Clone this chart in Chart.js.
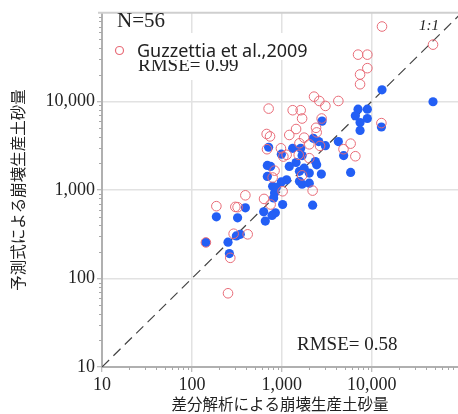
<!DOCTYPE html>
<html>
<head>
<meta charset="utf-8">
<style>
  html, body { margin: 0; padding: 0; background: #fff; }
</style>
<script src="https://cdn.jsdelivr.net/npm/chart.js@4/dist/chart.umd.min.js"></script>
</head>
<body>
<canvas id="chart" width="458" height="414"></canvas>
<script>
// decade ticks shared by both log axes
var decadeTicks = [10, 100, 1000, 10000];

// this study (filled blue): measured vs predicted
var blueX = [48000, 13000, 12800, 7040, 8930, 6570, 8930, 7410, 7410, 2800, 4250, 4870, 5820, 3050, 2240, 2570, 713, 1320, 1620, 1680, 987, 1440, 1210, 2360, 2440, 690, 750, 1570, 1770, 2020, 2750, 690, 1130, 987, 1570, 1680, 2020, 790, 830, 1020, 2200, 393, 187, 143, 252, 261, 322, 345, 312, 655, 628, 847, 778, 869, 811];
var blueY = [9900, 13500, 5130, 8150, 8150, 6860, 6400, 5770, 4700, 5980, 3510, 2440, 1575, 3160, 3820, 3510, 3030, 2950, 2950, 2440, 2530, 2040, 1840, 2090, 1920, 1890, 1840, 1620, 1760, 1550, 1510, 1420, 1300, 1230, 1250, 1160, 1190, 1100, 923, 684, 672, 627, 497, 255, 257, 191, 484, 315, 302, 445, 565, 551, 515, 1070, 811];

// Guzzettia et al., 2009 (open red)
var redX = [13000, 48000, 7040, 8930, 8930, 7410, 7410, 2280, 2610, 3050, 4250, 713, 1320, 1620, 1680, 2770, 1440, 2400, 2440, 678, 739, 1210, 1770, 1570, 2020, 2660, 5820, 4850, 6570, 977, 684, 1130, 1040, 1540, 2020, 12800, 830, 1680, 790, 1020, 2200, 393, 634, 304, 187, 143, 267, 252, 291, 417, 322, 750];
var redY = [70000, 43700, 33700, 33700, 23700, 20100, 15600, 11300, 10100, 8880, 10100, 8280, 7940, 7940, 6400, 6400, 4870, 5030, 4460, 4280, 4020, 4170, 3890, 3360, 3270, 3140, 3330, 2880, 2400, 2950, 2880, 2490, 2380, 2490, 2280, 5680, 1650, 1460, 1380, 965, 982, 869, 791, 643, 655, 255, 171, 68, 320, 315, 638, 684];

// 1:1 line ends
var lineXY = [10, 100000];

var BLUE = 'rgb(35,95,245)';
var RED = 'rgb(232,108,120)';
var SERIF = '"Liberation Serif", "Times New Roman", serif';
var CJK = '"Noto Sans CJK JP", sans-serif';

function toPoints(xs, ys) {
    return xs.map(function(x, i) { return { x: x, y: ys[i] }; });
}

function fmt(v) {
    return Number(v).toLocaleString('en-US');
}

// minor ticks, frame top line and the text labels
var extras = {
    id: 'extras',
    afterDraw: function(chart) {
        var ctx = chart.ctx;
        var area = chart.chartArea;
        var xs = chart.scales.x, ys = chart.scales.y;

        ctx.save();
        ctx.strokeStyle = '#a8a8a8';
        ctx.lineWidth = 1;
        ctx.beginPath();
        for (var d = 10; d < 100000; d *= 10) {
            for (var m = 2; m <= 9; m++) {
                var v = d * m;
                if (v <= xs.max) {
                    var px = Math.round(xs.getPixelForValue(v)) + 0.5;
                    ctx.moveTo(px, area.bottom);
                    ctx.lineTo(px, area.bottom + 3);
                }
                if (v <= ys.max) {
                    var py = Math.round(ys.getPixelForValue(v)) + 0.5;
                    ctx.moveTo(area.left, py);
                    ctx.lineTo(area.left - 3, py);
                }
            }
        }
        ctx.stroke();

        // top frame
        ctx.strokeStyle = '#cfcfcf';
        ctx.lineWidth = 2;
        ctx.beginPath();
        ctx.moveTo(area.left - 4, area.top);
        ctx.lineTo(area.right, area.top);
        ctx.stroke();

        ctx.fillStyle = '#222';
        ctx.textBaseline = 'alphabetic';
        ctx.textAlign = 'left';

        ctx.font = '21px ' + SERIF;
        ctx.fillText('N=56', 117, 27);

        ctx.font = 'italic 15px ' + SERIF;
        ctx.fillText('1:1', 419, 30);

        ctx.font = '19px ' + SERIF;
        ctx.fillText('RMSE= 0.58', 297, 350);

        // first RMSE label, boxed, then overlapped by legend box
        ctx.fillStyle = '#fff';
        ctx.fillRect(134, 58, 108, 22);
        ctx.fillStyle = '#222';
        ctx.fillText('RMSE= 0.99', 138, 71);

        ctx.fillStyle = '#fff';
        ctx.fillRect(108, 33, 212, 27);
        ctx.strokeStyle = RED;
        ctx.lineWidth = 1.2;
        ctx.beginPath();
        ctx.arc(119.5, 50.5, 4, 0, Math.PI * 2);
        ctx.stroke();
        ctx.fillStyle = '#222';
        ctx.font = '18px "Noto Sans", sans-serif';
        ctx.fillText('Guzzettia et al.,2009', 137, 57);
        ctx.restore();
    }
};

new Chart(document.getElementById('chart'), {
    type: 'scatter',
    data: {
        datasets: [
            {
                label: 'Guzzettia et al.,2009',
                data: toPoints(redX, redY),
                pointStyle: 'circle',
                pointRadius: 4.8,
                pointBorderWidth: 1,
                pointBackgroundColor: 'rgba(0,0,0,0)',
                pointBorderColor: RED,
                order: 0
            },
            {
                label: 'this study',
                data: toPoints(blueX, blueY),
                pointRadius: 4.6,
                pointBorderWidth: 0,
                pointBackgroundColor: BLUE,
                pointBorderColor: BLUE,
                order: 1
            },
            {
                label: '1:1',
                type: 'line',
                data: toPoints(lineXY, lineXY),
                borderColor: '#444',
                borderWidth: 1.2,
                borderDash: [10, 6],
                pointRadius: 0,
                fill: false,
                order: 2
            }
        ]
    },
    options: {
        responsive: false,
        animation: false,
        layout: { autoPadding: false, padding: { top: 10, right: 0, left: 0, bottom: 0 } },
        plugins: {
            legend: { display: false },
            tooltip: { enabled: false }
        },
        scales: {
            x: {
                type: 'logarithmic',
                min: 10,
                max: 91000,
                afterBuildTicks: function(s) {
                    s.ticks = decadeTicks.map(function(v) { return { value: v }; });
                },
                afterFit: function(s) { s.height = 47; },
                ticks: {
                    callback: fmt,
                    autoSkip: false,
                    maxRotation: 0,
                    color: '#222',
                    padding: 2,
                    font: { family: SERIF, size: 18 }
                },
                grid: { color: '#e2e2e2', lineWidth: 1.5, tickLength: 5, tickColor: '#a8a8a8', tickWidth: 1 },
                border: { color: '#b0b0b0', width: 2 },
                title: {
                    display: true,
                    text: '差分解析による崩壊生産土砂量',
                    color: '#222',
                    font: { family: CJK, size: 15.5 },
                    padding: { top: 0, bottom: 1 }
                }
            },
            y: {
                type: 'logarithmic',
                min: 10,
                max: 100000,
                afterBuildTicks: function(s) {
                    s.ticks = decadeTicks.map(function(v) { return { value: v }; });
                },
                afterFit: function(s) { s.width = 102; },
                ticks: {
                    callback: fmt,
                    autoSkip: false,
                    color: '#222',
                    padding: 2,
                    font: { family: SERIF, size: 18 }
                },
                grid: { color: '#e2e2e2', lineWidth: 1.5, tickLength: 5, tickColor: '#a8a8a8', tickWidth: 1 },
                border: { color: '#b0b0b0', width: 2 },
                title: {
                    display: true,
                    text: '予測式による崩壊生産土砂量',
                    color: '#222',
                    font: { family: CJK, size: 15.5 },
                    padding: { top: 9, bottom: 0 }
                }
            }
        }
    },
    plugins: [extras]
});
</script>
</body>
</html>
